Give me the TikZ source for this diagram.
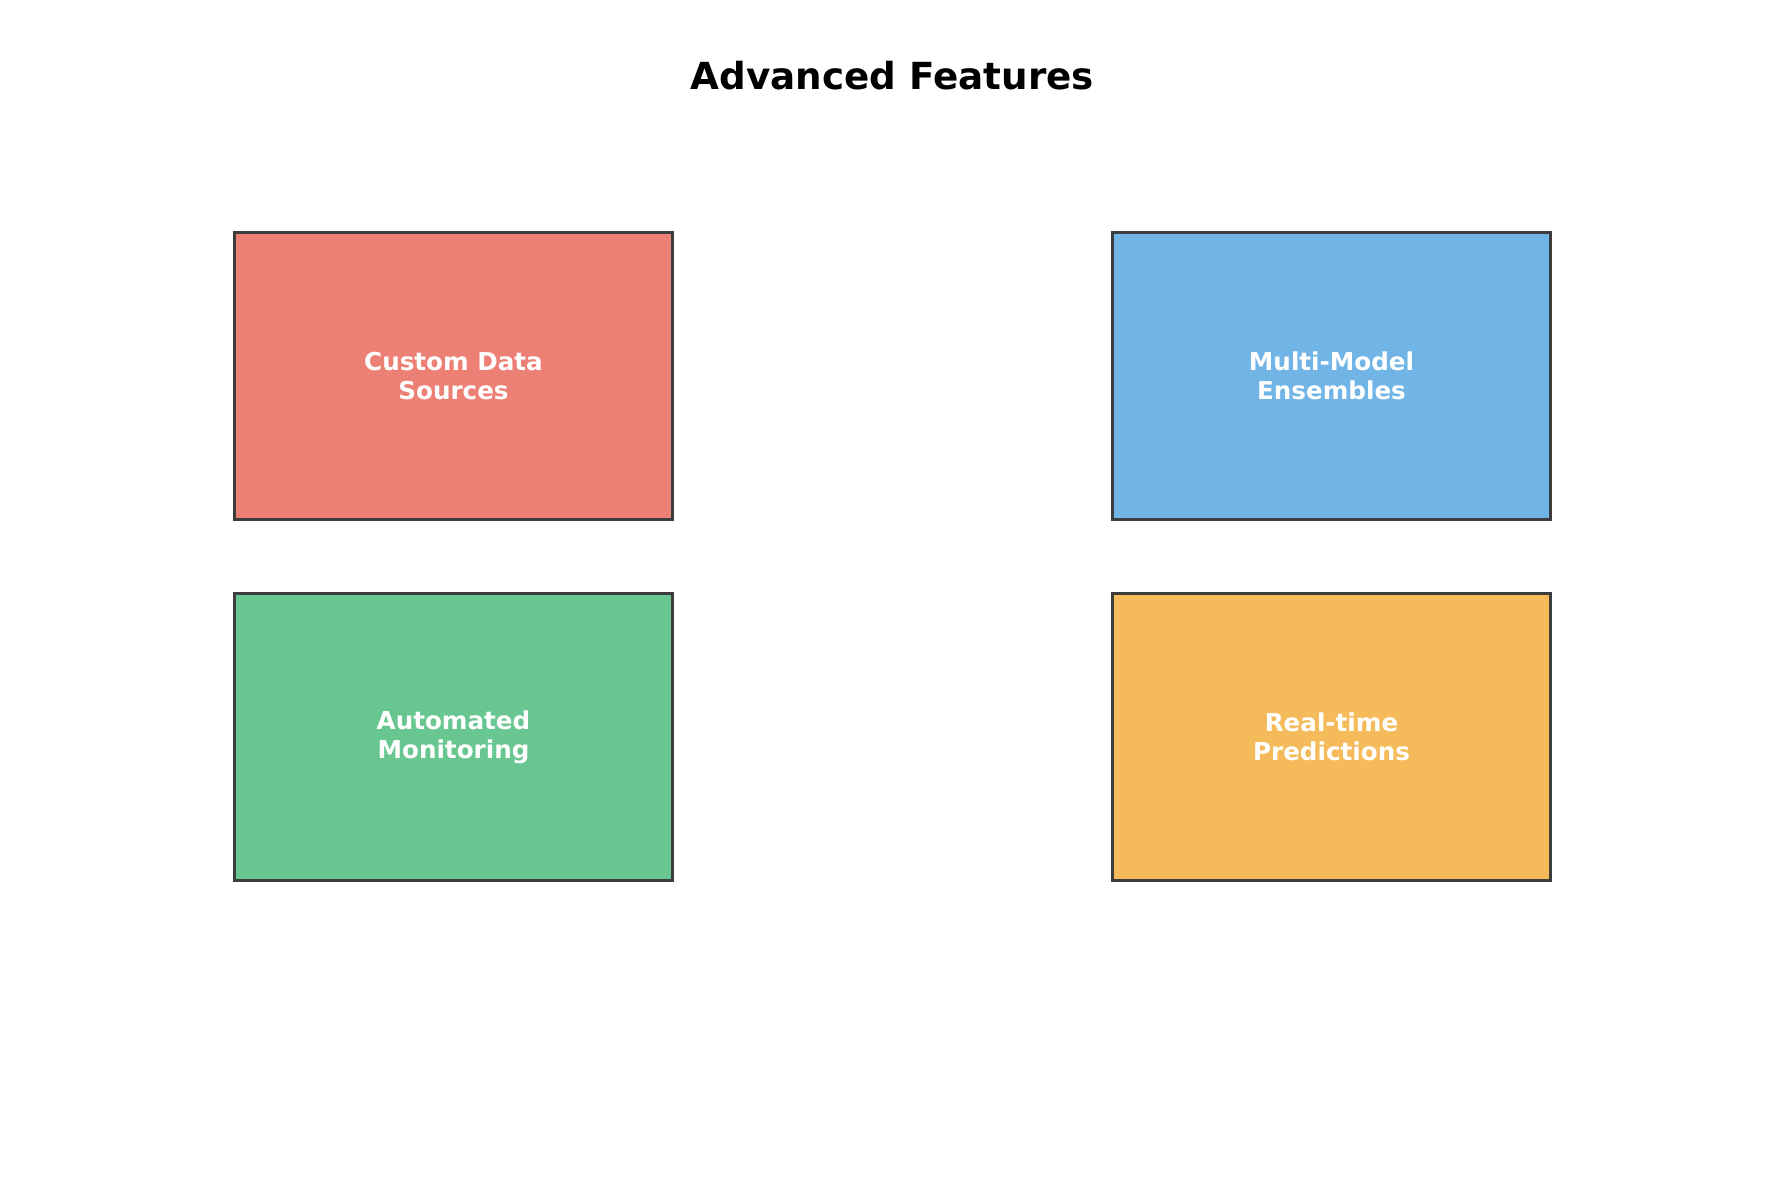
\documentclass[tikz,border=0pt]{standalone}
\usepackage{fontspec}
\setmainfont{DejaVu Sans}
\usepackage{tikz}
\definecolor{boxred}{HTML}{ED8074}
\definecolor{boxblue}{HTML}{70B5E6}
\definecolor{boxgreen}{HTML}{68C690}
\definecolor{boxorange}{HTML}{F5BA59}
\definecolor{boxedge}{HTML}{3D3D3D}
\begin{document}
\begin{tikzpicture}[x=0.01cm, y=-0.01cm, every text node part/.style={align=center},
  feature/.style={draw=boxedge, line width=0.94pt, minimum width=4.38cm, minimum height=2.87cm, inner sep=0pt, text=white, font=\fontsize{7}{8.2}\selectfont\bfseries},
  heading/.style={font=\fontsize{10.6}{12}\selectfont\bfseries}]
\useasboundingbox (0,0) rectangle (1785,1185);
\node [heading] (title) at (892.5,76) {Advanced Features};
% feature boxes
\node [feature, fill=boxred] (custom) at (453.5,376) {Custom Data\\Sources};
\node [feature, fill=boxblue] (ensembles) at (1331.5,376) {Multi-Model\\Ensembles};
\node [feature, fill=boxgreen] (monitoring) at (453.5,737) {Automated\\Monitoring};
\node [feature, fill=boxorange] (predictions) at (1331.5,737) {Real-time\\Predictions};
\end{tikzpicture}
\end{document}
